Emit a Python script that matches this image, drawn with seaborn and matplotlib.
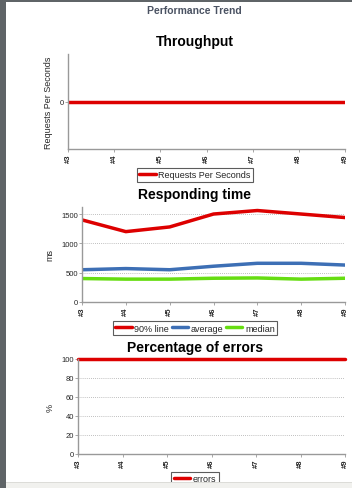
import matplotlib
matplotlib.use('Agg')
import matplotlib.pyplot as plt
import pandas as pd
import seaborn as sns
from matplotlib.patches import Rectangle

# data
builds = ['#3', '#4', '#5', '#6', '#7', '#8', '#9']
throughput = [0, 0, 0, 0, 0, 0, 0]
line90 = [1400, 1200, 1280, 1500, 1560, 1500, 1440]
average = [550, 570, 550, 610, 660, 660, 630]
median = [400, 390, 390, 405, 410, 390, 405]
errors = [100, 100, 100, 100, 100, 100, 100]

RED = '#dd0000'
BLUE = '#3d6fb5'
GREEN = '#66dd11'
AXIS = '#999999'

sns.set_theme(style='white')
plt.rcParams['font.family'] = ['Liberation Sans', 'DejaVu Sans']

W, H = 352, 489
fig = plt.figure(figsize=(W / 100, H / 100), dpi=100)
fig.patch.set_facecolor('white')


def box(l, t, r, b):
    return fig.add_axes([l / W, 1 - b / H, (r - l) / W, (b - t) / H])


def style(ax, title, ylabel, title_y):
    ax.set_xlim(0, len(builds) - 1)
    for s in ['top', 'right']:
        ax.spines[s].set_visible(False)
    for s in ['left', 'bottom']:
        ax.spines[s].set_color(AXIS)
        ax.spines[s].set_linewidth(1.0)
    ax.tick_params(axis='x', labelrotation=90, labelsize=5.5, length=2, width=0.6,
                   color=AXIS, pad=1, bottom=True)
    ax.tick_params(axis='y', labelsize=5.5, length=2, width=0.6, color=AXIS, pad=1, left=True)
    for t in ax.get_xticklabels():
        t.set_fontweight('bold')
    ax.set_xlabel('')
    ax.set_ylabel(ylabel, fontsize=6.5, labelpad=5)
    fig.text(195 / W, 1 - title_y / H, title, ha='center', va='center',
             fontsize=10, fontweight='bold', color='black')


def legend(ax, ncol, y_px):
    sns.move_legend(ax, 'center', bbox_to_anchor=(195 / W, 1 - y_px / H),
                    bbox_transform=fig.transFigure, ncol=ncol, frameon=True,
                    fontsize=6.5, title=None, handlelength=1.8, handletextpad=0.3,
                    columnspacing=0.3, borderpad=0.3, fancybox=False)
    leg = ax.get_legend()
    leg.get_frame().set_edgecolor('#333333')
    leg.get_frame().set_linewidth(0.8)
    for ln in leg.get_lines():
        ln.set_linewidth(2.5)


fig.text(194 / W, 1 - 11 / H, 'Performance Trend', ha='center', va='center',
         fontsize=7.5, fontweight='bold', color='#4a5262')

# Throughput
ax1 = box(68, 55, 345, 150)
df1 = pd.DataFrame({'build': builds, 'value': throughput, 'series': 'Requests Per Seconds'})
sns.lineplot(data=df1, x='build', y='value', hue='series', palette=[RED], linewidth=2.5,
             ax=ax1, sort=False)
ax1.set_ylim(-1, 1)
ax1.set_yticks([0])
style(ax1, 'Throughput', 'Requests Per Seconds', 42)
legend(ax1, 1, 176)

# Responding time
ax2 = box(82, 208, 345, 303)
df2 = pd.DataFrame({
    'build': builds * 3,
    'value': line90 + average + median,
    'series': ['90% line'] * 7 + ['average'] * 7 + ['median'] * 7,
})
sns.lineplot(data=df2, x='build', y='value', hue='series', palette=[RED, BLUE, GREEN],
             linewidth=2.5, ax=ax2, sort=False)
ax2.set_ylim(0, 1620)
ax2.set_yticks([0, 500, 1000, 1500])
for v in [500, 1000, 1500]:
    ax2.axhline(v, color='#aaaaaa', lw=0.6, ls=(0, (1, 1.5)), zorder=0)
style(ax2, 'Responding time', 'ms', 195)
legend(ax2, 3, 329)

# Percentage of errors
ax3 = box(78, 360, 345, 455)
df3 = pd.DataFrame({'build': builds, 'value': errors, 'series': 'errors'})
sns.lineplot(data=df3, x='build', y='value', hue='series', palette=[RED], linewidth=2.5,
             ax=ax3, sort=False)
for ln in ax3.get_lines():
    ln.set_clip_on(False)
ax3.set_ylim(0, 100)
ax3.set_yticks([0, 20, 40, 60, 80, 100])
for v in [20, 40, 60, 80]:
    ax3.axhline(v, color='#aaaaaa', lw=0.6, ls=(0, (1, 1.5)), zorder=0)
style(ax3, 'Percentage of errors', '%', 348)
legend(ax3, 1, 480)

# page frame of the screenshot
fig.add_artist(Rectangle((0, 0), 1, 5 / H, transform=fig.transFigure,
                         facecolor='#f1f1ee', edgecolor='none', zorder=20))
fig.add_artist(Rectangle((0, 5 / H), 1, 0.8 / H, transform=fig.transFigure,
                         facecolor='#dcdcd8', edgecolor='none', zorder=20))
fig.add_artist(Rectangle((0, 0), 6 / W, 1, transform=fig.transFigure,
                         facecolor='#5f6467', edgecolor='none', zorder=21))
fig.add_artist(Rectangle((0, 1 - 3 / H), 1, 3 / H, transform=fig.transFigure,
                         facecolor='#5f6467', edgecolor='none', zorder=21))

fig.savefig('out.png', dpi=100)
